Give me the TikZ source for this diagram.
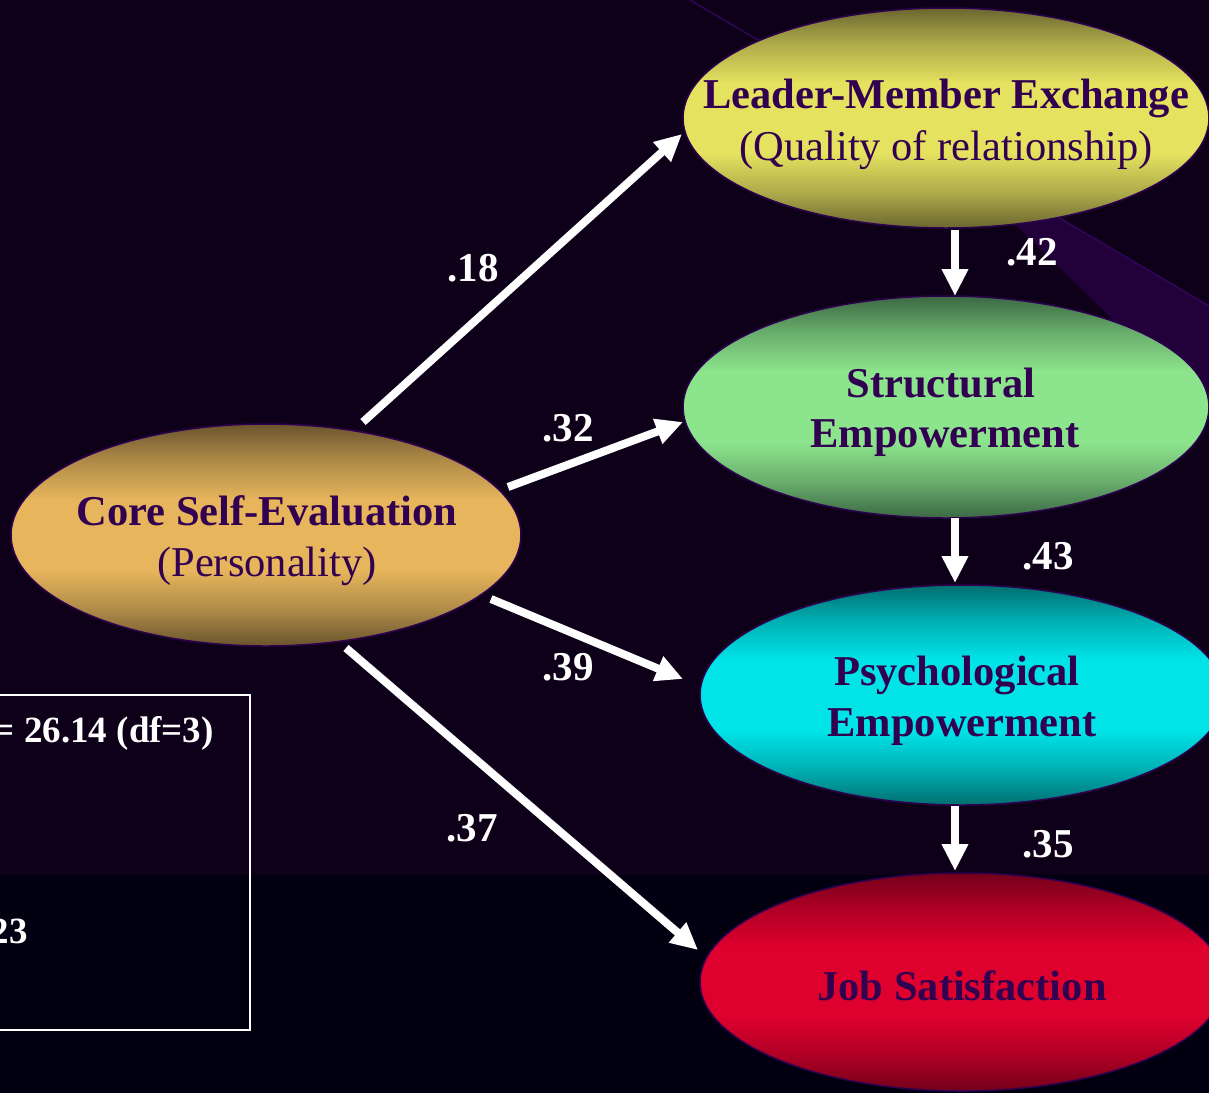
\documentclass[tikz,border=0pt]{standalone}
\usepackage{fontspec}
\setmainfont{Liberation Serif}
\usetikzlibrary{arrows.meta,shapes.geometric}

\definecolor{bgtop}{RGB}{14,0,24}
\definecolor{bgbot}{RGB}{2,0,16}
\definecolor{bandfill}{RGB}{34,0,58}
\definecolor{bandline}{RGB}{48,6,88}
\definecolor{inkpurple}{RGB}{50,0,80}
\definecolor{rimpurple}{RGB}{45,0,80}
\definecolor{cseEdge}{RGB}{105,84,45}
\definecolor{cseMid}{RGB}{230,181,92}
\definecolor{lmxEdge}{RGB}{106,102,48}
\definecolor{lmxMid}{RGB}{228,226,95}
\definecolor{seEdge}{RGB}{60,104,68}
\definecolor{seMid}{RGB}{140,228,140}
\definecolor{peEdge}{RGB}{0,110,112}
\definecolor{peMid}{RGB}{0,228,232}
\definecolor{jsEdge}{RGB}{115,0,26}
\definecolor{jsMid}{RGB}{222,0,45}

% soft vertical glow: dark rim at top and bottom, broad bright middle
\newcommand\glowshading[3]{%
  \pgfdeclareverticalshading{#1}{100bp}{%
    color(0bp)=(#2); color(25bp)=(#2);
    color(33bp)=(#2!45!#3); color(42bp)=(#3); color(58bp)=(#3);
    color(67bp)=(#2!45!#3); color(75bp)=(#2); color(100bp)=(#2)}}
\glowshading{cseShade}{cseEdge}{cseMid}
\glowshading{lmxShade}{lmxEdge}{lmxMid}
\glowshading{seShade}{seEdge}{seMid}
\glowshading{peShade}{peEdge}{peMid}
\glowshading{jsShade}{jsEdge}{jsMid}

\tikzset{
  construct/.style={ellipse, draw=rimpurple, line width=1.5pt, inner sep=0pt,
    minimum width=#1},
  title/.style={anchor=base, text=inkpurple, inner sep=0pt,
    font=\fontsize{42.5}{51}\selectfont\bfseries},
  subtitle/.style={anchor=base, text=inkpurple, inner sep=0pt,
    font=\fontsize{42.5}{51}\selectfont},
  coef/.style={text=white, inner sep=0pt,
    font=\fontsize{41}{49}\selectfont\bfseries},
  fitstat/.style={anchor=base east, text=white, inner sep=0pt,
    font=\fontsize{37}{44}\selectfont\bfseries},
  path/.style={draw=white, line width=8pt,
    -{Triangle[length=27pt,width=25pt]}},
}

\begin{document}
\begin{tikzpicture}[x=1pt,y=-1pt]
\useasboundingbox (0,0) rectangle (1209,1093);
\clip (0,0) rectangle (1209,1093);

% backdrop
\fill[bgtop] (0,0) rectangle (1209,875);
\fill[bgbot] (0,875) rectangle (1209,1093);
\fill[bandfill] (928,140) -- (1209,306) -- (1209,413) -- cycle;
\draw[bandline, line width=1.5pt] (690,0) -- (1209,306);

% fit statistics panel
\draw[white, line width=1.5pt] (-20,695) rectangle (250,1030);
\node[fitstat] (chi) at (214,742) {= 26.14 (df=3)};
\node[fitstat] (rmsea) at (28,943) {23};

% constructs
\node[construct=510pt, minimum height=222pt, shading=cseShade] (cse) at (266,535) {};
\node[construct=526pt, minimum height=220pt, shading=lmxShade] (lmx) at (946,118) {};
\node[construct=526pt, minimum height=222pt, shading=seShade] (se) at (946,407) {};
\node[construct=524pt, minimum height=220pt, shading=peShade] (pe) at (962,695) {};
\node[construct=524pt, minimum height=218pt, shading=jsShade] (js) at (962,982) {};

% construct names
\node[title] (cse-a) at (267,525) {Core Self-Evaluation};
\node[subtitle] (cse-b) at (267,576) {(Personality)};
\node[title] (lmx-a) at (946,108) {Leader-Member Exchange};
\node[subtitle] (lmx-b) at (946,160) {(Quality of relationship)};
\node[title] (se-a) at (941,397) {Structural};
\node[title] (se-b) at (945,447) {Empowerment};
\node[title] (pe-a) at (957,685) {Psychological};
\node[title] (pe-b) at (962,736) {Empowerment};
\node[title] (js-a) at (962,1000) {Job Satisfaction};

% path endpoints
\coordinate (cse-lmx) at (363,422);
\coordinate (lmx-in)  at (682,134);
\coordinate (cse-se)  at (508,487);
\coordinate (se-in)   at (683,422);
\coordinate (cse-pe)  at (491,599);
\coordinate (pe-in)   at (683,679);
\coordinate (cse-js)  at (346,648);
\coordinate (js-in)   at (698,950);
\coordinate (lmx-out) at (955,230);
\coordinate (se-top)  at (955,296);
\coordinate (se-out)  at (955,518);
\coordinate (pe-top)  at (955,583);
\coordinate (pe-out)  at (955,806);
\coordinate (js-top)  at (955,871);

% structural paths
\draw[path] (cse-lmx) -- (lmx-in);
\draw[path] (cse-se) -- (se-in);
\draw[path] (cse-pe) -- (pe-in);
\draw[path] (cse-js) -- (js-in);
\draw[path] (lmx-out) -- (se-top);
\draw[path] (se-out) -- (pe-top);
\draw[path] (pe-out) -- (js-top);

% path coefficients
\node[coef] (c18) at (473,268) {.18};
\node[coef] (c32) at (568,428) {.32};
\node[coef] (c39) at (568,667) {.39};
\node[coef] (c37) at (472,828) {.37};
\node[coef] (c42) at (1032,252) {.42};
\node[coef] (c43) at (1048,556) {.43};
\node[coef] (c35) at (1048,844) {.35};
\end{tikzpicture}
\end{document}
